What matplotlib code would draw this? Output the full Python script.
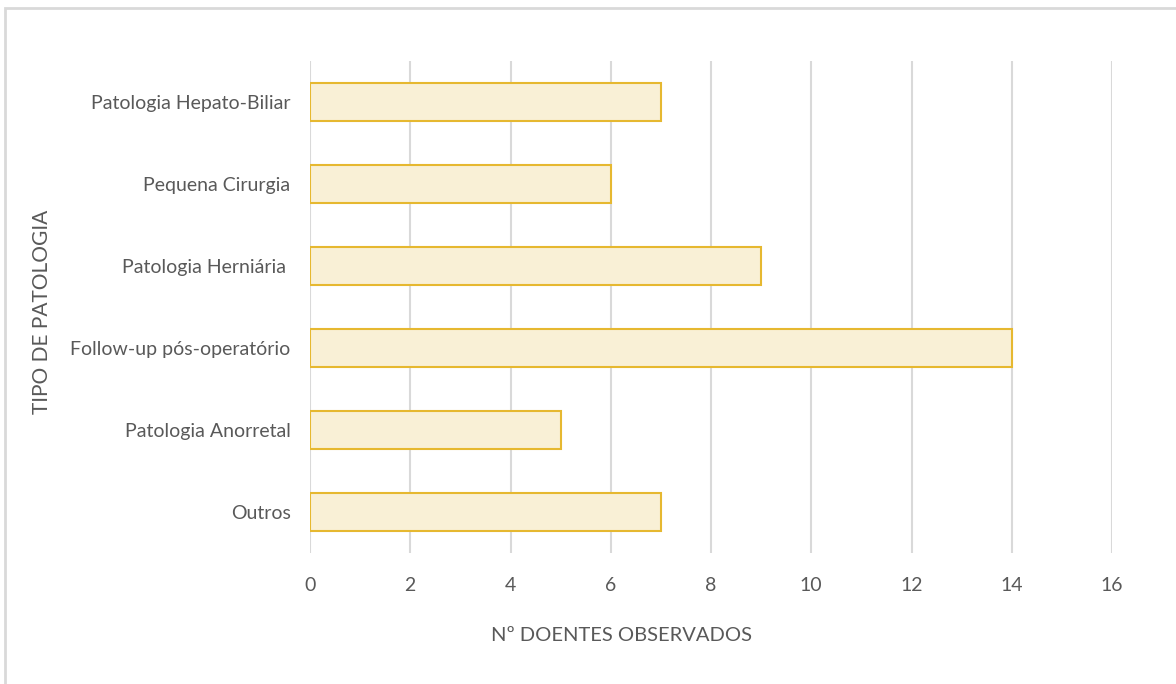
import matplotlib.pyplot as plt
from matplotlib.patches import Rectangle

# Dados
categorias = ["Outros", "Patologia Anorretal", "Follow-up pós-operatório",
              "Patologia Herniária ", "Pequena Cirurgia", "Patologia Hepato-Biliar"]
doentes = [7, 5, 14, 9, 6, 7]
ticks_x = [0, 2, 4, 6, 8, 10, 12, 14, 16]

plt.rcParams["font.family"] = ["Lato", "DejaVu Sans"]
cinza = "#595959"

fig = plt.figure(figsize=(11.76, 6.84), dpi=100)
ax = fig.add_axes([310 / 1176, 1 - 553 / 684, 802 / 1176, 492 / 684])

# moldura do gráfico
fig.patches.append(Rectangle((5 / 1176, -0.01), 1.0, 1 - 8 / 684 + 0.01,
                             transform=fig.transFigure, fill=False,
                             edgecolor="#d9d9d9", linewidth=2))

ax.barh(range(len(categorias)), doentes, height=0.465,
        color="#f9f0d6", edgecolor="#e6b830", linewidth=1.5, zorder=3)

ax.set_xlim(0, 16)
ax.set_ylim(-0.5, len(categorias) - 0.5)
ax.set_xticks(ticks_x)
ax.set_yticks(range(len(categorias)))
ax.set_yticklabels(categorias)

ax.grid(axis="x", color="#d9d9d9", linewidth=1.5, zorder=0)
for s in ax.spines.values():
    s.set_visible(False)
ax.tick_params(length=0, colors=cinza, labelsize=14)
ax.tick_params(axis="x", pad=17)
ax.tick_params(axis="y", pad=14)

ax.set_xlabel("Nº DOENTES OBSERVADOS", color=cinza, fontsize=14.5)
ax.xaxis.set_label_coords(0.389, -0.15)
ax.set_ylabel("TIPO DE PATOLOGIA", color=cinza, fontsize=15)
ax.yaxis.set_label_coords(-0.322, 0.49)

fig.savefig("out.png", dpi=100)
